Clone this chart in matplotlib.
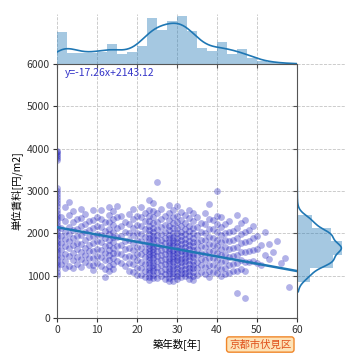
import matplotlib
matplotlib.use("Agg")
import matplotlib.pyplot as plt
import numpy as np

plt.rcParams['font.family'] = ['Noto Sans CJK JP', 'DejaVu Sans']

# 築年数ごとの単位賃料 (index = 築年数)
rent_by_age = [
    [3950, 3910, 3870, 3830, 3790, 3740, 3080, 3010, 2930, 2860, 2780, 2710, 2640, 2560, 2490, 2420, 2340, 2270,
     2190, 2120, 2060, 1990, 1920, 1850, 1780, 1700, 1630, 1560, 1480, 1400, 1330, 1250, 1170, 1090, 1020],
    [2380, 2120, 1940, 1760, 1610, 1430, 1270],
    [2620, 2290, 2030, 1870, 1690, 1520, 1340, 1180],
    [2730, 2440, 2160, 1980, 1810, 1650, 1470, 1230],
    [2520, 2270, 2080, 1890, 1720, 1540, 1360, 1190],
    [2330, 2110, 1930, 1780, 1620, 1450, 1280],
    [2580, 2360, 2170, 1960, 1740, 1560, 1390, 1210],
    [2460, 2230, 2040, 1850, 1660, 1480, 1310],
    [2280, 2070, 1910, 1730, 1570, 1410, 1240],
    [2540, 2310, 2120, 1940, 1770, 1590, 1420, 1260, 1130],
    [2390, 2180, 1990, 1820, 1640, 1470, 1290],
    [2560, 2340, 2150, 1970, 1790, 1610, 1440, 1220],
    [2270, 2060, 1880, 1710, 1530, 1370, 1160, 960],
    [2610, 2430, 2260, 2110, 1980, 1850, 1730, 1610, 1490, 1360, 1230, 1100],
    [2520, 2340, 2190, 2040, 1910, 1790, 1660, 1540, 1410, 1280, 1150],
    [2640, 2380, 2130, 1920, 1710, 1530, 1340],
    [2420, 2170, 1940, 1720, 1510, 1290],
    [2260, 2030, 1810, 1620, 1430, 1220],
    [2450, 2210, 2000, 1830, 1650, 1470, 1300, 1120],
    [2570, 2330, 2120, 1960, 1780, 1610, 1440, 1270, 1090],
    [2410, 2190, 2010, 1840, 1680, 1520, 1360, 1190, 1020],
    [2630, 2380, 2170, 1990, 1820, 1660, 1500, 1330, 1170, 1010],
    [2490, 2280, 2090, 1910, 1750, 1590, 1430, 1270, 1110, 970],
    [2790, 2560, 2410, 2290, 2180, 2070, 1980, 1890, 1810, 1730, 1660, 1590, 1510, 1440, 1370, 1290, 1210,
     1130, 1050, 970, 900],
    [2710, 2520, 2380, 2240, 2130, 2030, 1940, 1860, 1780, 1710, 1630, 1560, 1480, 1410, 1330, 1260, 1180,
     1100, 1020, 950],
    [3210, 2480, 2270, 2110, 1960, 1830, 1700, 1580, 1460, 1340, 1210, 1090, 940],
    [2580, 2340, 2150, 1990, 1850, 1720, 1600, 1480, 1360, 1240, 1110, 990],
    [2420, 2200, 2030, 1890, 1760, 1630, 1510, 1390, 1270, 1150, 1030, 920],
    [2680, 2470, 2310, 2180, 2070, 1970, 1880, 1800, 1720, 1650, 1570, 1500, 1420, 1350, 1270, 1190, 1110,
     1030, 950, 870],
    [2560, 2380, 2240, 2120, 2010, 1920, 1840, 1760, 1690, 1610, 1540, 1460, 1390, 1310, 1230, 1150, 1070,
     990, 880],
    [2640, 2420, 2260, 2120, 2000, 1890, 1790, 1700, 1610, 1530, 1440, 1360, 1270, 1180, 1090, 1000, 910],
    [2510, 2320, 2170, 2040, 1930, 1830, 1740, 1650, 1570, 1490, 1400, 1320, 1230, 1140, 1050, 960],
    [2430, 2250, 2100, 1980, 1870, 1770, 1680, 1590, 1510, 1420, 1340, 1250, 1160, 1070, 980],
    [2560, 2350, 2180, 2050, 1930, 1820, 1720, 1630, 1540, 1460, 1370, 1280, 1190, 1100, 1010, 920],
    [2470, 2280, 2130, 2000, 1890, 1790, 1700, 1610, 1520, 1440, 1350, 1260, 1170, 1080, 990, 900],
    [2380, 2150, 1960, 1790, 1630, 1480, 1330, 1170, 1020],
    [2240, 2030, 1850, 1690, 1540, 1390, 1240, 1090],
    [2490, 2220, 2010, 1830, 1670, 1510, 1360, 1200, 1040],
    [2690, 2330, 2100, 1910, 1740, 1580, 1420, 1260, 1100, 960],
    [2310, 2090, 1900, 1730, 1570, 1410, 1250, 1090],
    [2990, 2420, 2210, 2020, 1850, 1690, 1530, 1370, 1210, 1050],
    [2380, 2160, 1970, 1800, 1640, 1480, 1320, 1160, 990],
    [2210, 2010, 1830, 1670, 1510, 1350, 1190, 1030],
    [2290, 2040, 1820, 1620, 1430, 1240, 1060],
    [2060, 1850, 1660, 1470, 1280, 1100],
    [2430, 2130, 1890, 1680, 1480, 1290, 1110, 590],
    [2250, 1990, 1770, 1560, 1360, 1160],
    [2320, 2040, 1790, 1560, 1330, 1120, 470],
    [2080, 1820, 1570, 1320],
    [2170, 1880, 1610, 1350],
    [1930, 1640, 1300],
    [1720, 1260],
    [2030, 1480],
    [1750, 1390],
    [1560],
    [1820],
    [1290],
    [1420],
    [730],
]

# 回帰式
slope = -17.26
intercept = 2143.12

# 上側ヒストグラム (築年数)
age_edges = np.arange(0, 60.01, 2.5)
age_counts = [95, 34, 33, 33, 37, 60, 29, 36, 54, 137, 102, 129,
              142, 100, 49, 40, 66, 29, 46, 17, 10, 5, 3, 2]

# 右側ヒストグラム (単位賃料)
rent_edges = [544, 860, 1177, 1494, 1810, 2127, 2443, 2760, 3076, 3393, 3709, 4026]
rent_counts = [4, 38, 108, 136, 103, 46, 2, 1, 1, 0, 1]


def weighted_kde(grid, edges, counts, bw):
    edges = np.asarray(edges, dtype=float)
    counts = np.asarray(counts, dtype=float)
    centers = (edges[:-1] + edges[1:]) / 2
    width = np.diff(edges)
    d = (grid[:, None] - centers[None, :]) / bw
    dens = np.exp(-0.5 * d ** 2) / (bw * np.sqrt(2 * np.pi))
    return (dens * counts * width).sum(axis=1)


ages = np.concatenate([[a] * len(r) for a, r in enumerate(rent_by_age)])
rents = np.concatenate([r for r in rent_by_age if len(r)])

fig = plt.figure(figsize=(3.6, 3.6), dpi=100)
ax = fig.add_axes([0.158, 0.117, 0.667, 0.705])
ax_top = fig.add_axes([0.158, 0.822, 0.667, 0.139], sharex=ax)
ax_right = fig.add_axes([0.825, 0.117, 0.133, 0.705], sharey=ax)

grid_kw = dict(color='#c4c4c4', linestyle='--', linewidth=0.6)
spine_c = '#555555'

# 散布図
ax.scatter(ages, rents, s=24, color='#0000b4', alpha=0.3, linewidths=0, zorder=2)
xl = np.array([0, 60])
ax.plot(xl, slope * xl + intercept, color='#1f77b4', lw=1.8, zorder=3)
ax.text(2, 5780, f"y={slope}x+{intercept}", color='#3535c8', fontsize=7.5,
        va='center', ha='left')

ax.set_xlim(0, 60)
ax.set_ylim(0, 6000)
ax.set_xticks(range(0, 61, 10))
ax.set_yticks(range(0, 6001, 1000))
ax.grid(True, **grid_kw)
ax.set_axisbelow(True)
for s in ['top', 'right']:
    ax.spines[s].set_visible(False)
for s in ['left', 'bottom']:
    ax.spines[s].set_color(spine_c)
ax.tick_params(labelsize=7.5, colors='#333333', length=3, width=0.8, pad=2)
ax.set_xlabel("築年数[年]", fontsize=7.5, labelpad=3)
ax.set_ylabel("単位賃料[円/m2]", fontsize=7.5, labelpad=3)

# 上側
ax_top.bar(age_edges[:-1], age_counts, width=np.diff(age_edges), align='edge',
           color='#1f77b4', alpha=0.4, linewidth=0)
gx = np.linspace(0, 60, 300)
ax_top.plot(gx, weighted_kde(gx, age_edges, age_counts, 3.0), color='#1f77b4', lw=1.2)
ax_top.set_ylim(0, max(age_counts) * 1.05)
ax_top.grid(True, axis='x', **grid_kw)
ax_top.set_axisbelow(True)
for s in ['top', 'right', 'left']:
    ax_top.spines[s].set_visible(False)
ax_top.spines['bottom'].set_color(spine_c)
ax_top.tick_params(axis='x', labelbottom=False, length=3, width=0.8, color=spine_c)
ax_top.tick_params(axis='y', left=False, labelleft=False)

# 右側
ax_right.barh(rent_edges[:-1], rent_counts, height=np.diff(rent_edges), align='edge',
              color='#1f77b4', alpha=0.4, linewidth=0)
gy = np.linspace(620, 3960, 300)
ax_right.plot(weighted_kde(gy, rent_edges, rent_counts, 150.0), gy, color='#1f77b4', lw=1.2)
ax_right.set_xlim(0, max(rent_counts) * 1.06)
ax_right.grid(True, axis='y', **grid_kw)
ax_right.set_axisbelow(True)
for s in ['top', 'right', 'bottom']:
    ax_right.spines[s].set_visible(False)
ax_right.spines['left'].set_color(spine_c)
ax_right.tick_params(axis='y', labelleft=False, length=3, width=0.8, color=spine_c)
ax_right.tick_params(axis='x', bottom=False, labelbottom=False)

fig.text(0.723, 0.043, "京都市伏見区", fontsize=7.5, color='#e0501a', ha='center', va='center',
         bbox=dict(boxstyle='round,pad=0.25', fc='#fde3b8', ec='#f0862a', lw=1.0))

fig.savefig('out.png', dpi=100)
